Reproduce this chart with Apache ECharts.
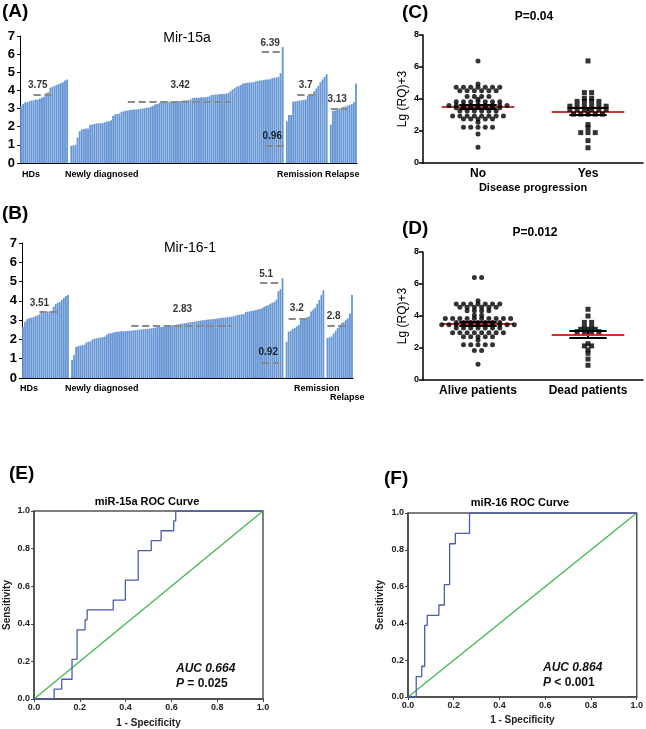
<!DOCTYPE html>
<html>
<head>
<meta charset="utf-8">
<script src="https://cdn.jsdelivr.net/npm/echarts@6/dist/echarts.min.js"></script>
<style>
html, body { margin: 0; padding: 0; background: #fff; }
#chart { width: 646px; height: 729px; }
</style>
</head>
<body>
<div id="chart"></div>
<script>
// (A) Mir-15a, sorted values per group
var hdsA = [3.15, 3.25, 3.35, 3.35, 3.4, 3.45, 3.45, 3.5, 3.5, 3.55, 3.6, 3.65, 3.85, 3.9, 4.15, 4.2, 4.25, 4.3, 4.35, 4.4, 4.45, 4.55, 4.6];
var newlyA = [0.95, 0.97, 1.0, 1.4, 1.75, 1.85, 1.88, 1.9, 1.9, 2.1, 2.12, 2.15, 2.18, 2.18, 2.2, 2.2, 2.25, 2.28, 2.3, 2.35,
    2.6, 2.68, 2.7, 2.72, 2.82, 2.85, 2.88, 2.9, 2.92, 2.93, 2.95, 2.95, 2.97, 2.98, 3.0, 3.02, 3.05, 3.05, 3.1, 3.15,
    3.22, 3.25, 3.3, 3.35, 3.35, 3.36, 3.38, 3.38, 3.4, 3.4, 3.4, 3.42, 3.42, 3.43, 3.45, 3.45, 3.47, 3.5, 3.58, 3.6,
    3.6, 3.6, 3.62, 3.62, 3.63, 3.65, 3.68, 3.75, 3.76, 3.78, 3.78, 3.8, 3.8, 3.8, 3.82, 3.85, 3.95, 4.05, 4.12, 4.2,
    4.25, 4.3, 4.38, 4.4, 4.42, 4.43, 4.45, 4.45, 4.5, 4.52, 4.55, 4.55, 4.58, 4.6, 4.6, 4.62, 4.68, 4.7, 4.72, 4.75,
    4.95, 6.39];
var remissionA = [2.3, 2.65, 2.65, 3.38, 3.4, 3.42, 3.45, 3.45, 3.48, 3.5, 3.7, 3.72, 3.8, 3.95, 4.1, 4.25, 4.45, 4.6, 4.75, 4.9];
var relapseA = [2.12, 2.88, 2.9, 2.95, 3.0, 3.05, 3.1, 3.12, 3.15, 3.2, 3.25, 3.35, 4.38];

// (B) Mir-16-1
var hdsB = [2.63, 2.92, 3.05, 3.1, 3.12, 3.15, 3.2, 3.25, 3.3, 3.4, 3.45, 3.45, 3.45, 3.45, 3.48, 3.7, 3.85, 3.9, 3.95, 4.05, 4.15, 4.25, 4.3];
var newlyB = [0.93, 1.2, 1.62, 1.65, 1.68, 1.7, 1.72, 1.85, 1.88, 1.9, 2.0, 2.04, 2.06, 2.08, 2.1, 2.12, 2.15, 2.25, 2.3, 2.32,
    2.35, 2.38, 2.4, 2.4, 2.42, 2.42, 2.43, 2.44, 2.45, 2.45, 2.47, 2.48, 2.5, 2.5, 2.52, 2.53, 2.54, 2.55, 2.56, 2.58,
    2.6, 2.62, 2.64, 2.65, 2.66, 2.67, 2.68, 2.7, 2.72, 2.73, 2.75, 2.76, 2.78, 2.8, 2.82, 2.84, 2.86, 2.88, 2.9, 2.9,
    2.92, 2.94, 2.96, 2.98, 3.0, 3.0, 3.02, 3.03, 3.04, 3.05, 3.06, 3.08, 3.1, 3.12, 3.13, 3.14, 3.15, 3.17, 3.18, 3.2,
    3.24, 3.26, 3.28, 3.3, 3.32, 3.42, 3.44, 3.46, 3.48, 3.5, 3.52, 3.55, 3.58, 3.62, 3.7, 3.74, 3.78, 3.85, 3.9, 3.95,
    4.05, 4.5, 4.6, 5.17];
var remissionB = [1.88, 2.4, 2.45, 2.55, 2.6, 2.68, 2.75, 3.0, 3.05, 3.1, 3.15, 3.2, 3.45, 3.55, 3.65, 3.85, 4.05, 4.3, 4.55];
var relapseB = [2.08, 2.1, 2.15, 2.3, 2.45, 2.6, 2.75, 2.85, 2.9, 3.0, 3.1, 3.35, 4.3];
var groupNames = ['HDs', 'Newly diagnosed', 'Remission', 'Relapse'];

// (C) disease progression: [value, how many dots at that level]
var progNo = [[6.38, 1], [4.94, 1], [4.73, 7], [4.52, 6], [4.15, 4], [3.98, 1], [3.83, 7], [3.6, 9], [3.46, 7], [3.25, 6],
    [2.94, 8], [2.75, 5], [2.54, 1], [2.23, 5], [1.81, 1], [0.98, 1]];
var progYes = [[6.38, 1], [4.4, 2], [4.05, 2], [3.85, 4], [3.55, 6], [3.35, 6], [3.05, 5], [2.4, 1], [2.2, 1], [1.9, 3], [1.4, 1], [0.95, 1]];
var progMean = [3.5, 3.21];
var progSem = [0.12, 0.22];
var progCats = ['No', 'Yes'];

// (D) survival
var alive = [[6.4, 2], [4.96, 1], [4.75, 7], [4.55, 6], [4.33, 4], [4.05, 2], [3.85, 10], [3.6, 7], [3.45, 11], [3.25, 7],
    [2.95, 8], [2.7, 5], [2.5, 1], [2.2, 5], [1.85, 2], [0.98, 1]];
var dead = [[4.42, 1], [4.0, 1], [3.6, 2], [3.3, 2], [3.17, 3], [3.02, 4], [2.27, 1], [2.13, 2], [1.88, 1], [1.67, 1], [1.31, 1], [0.92, 1]];
var survMean = [3.52, 2.85];
var survSem = [0.1, 0.2];
var survCats = ['Alive patients', 'Dead patients'];

// (E)/(F) ROC curves
var fprE = [0, 0.088, 0.121, 0.166, 0.188, 0.223, 0.232, 0.346, 0.399, 0.455, 0.512, 0.555, 0.61, 0.619, 1];
var tprE = [0, 0.053, 0.105, 0.211, 0.368, 0.421, 0.474, 0.526, 0.632, 0.789, 0.842, 0.895, 0.947, 1, 1];
var fprF = [0, 0.036, 0.06, 0.073, 0.084, 0.135, 0.159, 0.182, 0.207, 0.269, 1];
var tprF = [0, 0.111, 0.167, 0.389, 0.444, 0.5, 0.611, 0.833, 0.889, 1, 1];

var chart = echarts.init(document.getElementById('chart'));
var FONT = 'Arial, "Liberation Sans", sans-serif';
var BLUE = '#6796d5';

// groups joined with one empty slot between them
function joinGroups(groups) {
    var out = [];
    groups.forEach(function (g, i) {
        if (i > 0) out.push('-');
        out = out.concat(g);
    });
    return out;
}
var barsA = joinGroups([hdsA, newlyA, remissionA, relapseA]);
var barsB = joinGroups([hdsB, newlyB, remissionB, relapseB]);

// dashed mean lines and value labels: [text, labelIdx, labelY, dashY, from, to]
var notesA = [['3.75', 8, 4.3, 3.75, 6, 16], ['3.42', 76, 4.3, 3.4, 51, 100], ['6.39', 119, 6.6, 6.13, 115, 125],
    ['0.96', 119.5, 1.5, 0.97, 117, 126], ['3.7', 136, 4.3, 3.75, 132, 141], ['3.13', 151, 3.53, 2.99, 148, 156]];
var notesB = [['3.51', 7.6, 3.9, 3.45, 8, 17], ['2.83', 78, 3.58, 2.71, 53, 102], ['5.1', 119, 5.39, 4.94, 116, 126],
    ['0.92', 120, 1.33, 0.81, 117, 125], ['3.2', 134, 3.62, 3.06, 130, 140], ['2.8', 152, 3.18, 2.71, 149, 158]];

function barPanel(bars, notes, idx) {
    return [{
        type: 'bar', xAxisIndex: idx, yAxisIndex: idx, data: bars,
        barCategoryGap: '12%', itemStyle: { color: BLUE }, silent: true,
        markLine: {
            silent: true, symbol: ['none', 'none'], label: { show: false },
            lineStyle: { color: '#8a8a8a', type: 'dashed', width: 1.8 },
            data: notes.map(function (n) { return [{ coord: [n[4], n[3]] }, { coord: [n[5], n[3]] }]; })
        }
    }, {
        type: 'scatter', xAxisIndex: idx, yAxisIndex: idx, symbolSize: 1, silent: true,
        itemStyle: { color: 'rgba(0,0,0,0)' },
        data: notes.map(function (n) { return [n[1], n[2], n[0]]; }),
        label: {
            show: true, position: 'inside', color: '#000', fontSize: 10, fontWeight: 'bold', fontFamily: FONT,
            formatter: function (p) { return p.data[2]; }
        }
    }];
}

// symmetric rows of dots around the group centre
function swarm(rows, center) {
    var pts = [];
    rows.forEach(function (r) {
        for (var i = 0; i < r[1]; i++) pts.push([center + (i - (r[1] - 1) / 2) * 0.066, r[0]]);
    });
    return pts;
}

function meanSem(means, sems, xi, yi, red) {
    var black = [], redLines = [];
    means.forEach(function (m, i) {
        var c = i + 0.5, lo = m - sems[i], hi = m + sems[i];
        black.push({ coords: [[c - 0.17, lo], [c + 0.17, lo]] });
        black.push({ coords: [[c - 0.17, hi], [c + 0.17, hi]] });
        black.push({ coords: [[c, lo], [c, hi]] });
        redLines.push({ coords: [[c - 0.33, m], [c + 0.33, m]] });
    });
    return [
        { type: 'lines', coordinateSystem: 'cartesian2d', xAxisIndex: xi, yAxisIndex: yi, silent: true,
          lineStyle: { color: '#000', width: 2, opacity: 1 }, data: black },
        { type: 'lines', coordinateSystem: 'cartesian2d', xAxisIndex: xi, yAxisIndex: yi, silent: true,
          lineStyle: { color: red, width: 2, opacity: 1 }, data: redLines }
    ];
}

function pairs(xs, ys) { return xs.map(function (x, i) { return [x, ys[i]]; }); }

function barX(idx, n) {
    return { gridIndex: idx, type: 'category', data: Array.from({ length: n }, function (_, i) { return i; }),
        axisLine: { lineStyle: { color: '#000', width: 1 } }, axisTick: { show: false }, axisLabel: { show: false } };
}
function barY(idx) {
    return { gridIndex: idx, type: 'value', min: 0, max: 7, interval: 1, splitLine: { show: false },
        axisLine: { show: true, lineStyle: { color: '#000', width: 1 } },
        axisTick: { show: true, length: 3, lineStyle: { color: '#000' } },
        axisLabel: { color: '#000', fontSize: 13, fontWeight: 'bold', fontFamily: FONT, margin: 5 } };
}
function dotX(gi, cats, name) {
    return { gridIndex: gi, type: 'category', data: cats,
        axisLine: { lineStyle: { color: '#000', width: 1.5 } },
        axisTick: { alignWithLabel: true, length: 4, lineStyle: { color: '#000', width: 1.5 } },
        axisLabel: { color: '#000', fontSize: 12, fontWeight: 'bold', fontFamily: FONT, margin: 5 },
        name: name, nameLocation: 'middle', nameGap: 19,
        nameTextStyle: { color: '#000', fontSize: 11, fontWeight: 'bold', fontFamily: FONT } };
}
function dotY(gi) {
    return { gridIndex: gi, type: 'value', min: 0, max: 8, interval: 2, splitLine: { show: false },
        axisLine: { show: true, lineStyle: { color: '#000', width: 1.5 } },
        axisTick: { show: true, length: 4, lineStyle: { color: '#000', width: 1.5 } },
        axisLabel: { color: '#000', fontSize: 9, fontWeight: 'bold', fontFamily: FONT, margin: 4 },
        name: 'Lg (RQ)+3', nameLocation: 'middle', nameGap: 14,
        nameTextStyle: { color: '#000', fontSize: 12, fontFamily: FONT } };
}
function rocX(gi, gap) {
    return { gridIndex: gi, type: 'value', min: 0, max: 1, interval: 0.2, splitLine: { show: false },
        axisLine: { lineStyle: { color: '#444', width: 1.5 } },
        axisTick: { show: true, length: 3, lineStyle: { color: '#444' } },
        axisLabel: { color: '#222', fontSize: 9, fontWeight: 'bold', fontFamily: FONT, margin: 4,
            formatter: function (v) { return v.toFixed(1); } },
        name: '1 - Specificity', nameLocation: 'middle', nameGap: gap,
        nameTextStyle: { color: '#222', fontSize: 10, fontWeight: 'bold', fontFamily: FONT } };
}
function rocY(gi, gap) {
    return { gridIndex: gi, type: 'value', min: 0, max: 1, interval: 0.2, splitLine: { show: false },
        axisLine: { show: true, lineStyle: { color: '#444', width: 1.5 } },
        axisTick: { show: true, length: 3, lineStyle: { color: '#444' } },
        axisLabel: { color: '#222', fontSize: 9, fontWeight: 'bold', fontFamily: FONT, margin: 4,
            formatter: function (v) { return v.toFixed(1); } },
        name: 'Sensitivity', nameLocation: 'middle', nameGap: gap,
        nameTextStyle: { color: '#222', fontSize: 10, fontWeight: 'bold', fontFamily: FONT } };
}
function rocSeries(gi, xs, ys) {
    return [{
        type: 'line', xAxisIndex: gi, yAxisIndex: gi - 2, data: [[0, 0], [1, 1]], symbol: 'none', silent: true,
        lineStyle: { color: '#3db54a', width: 1.2 }
    }, {
        type: 'line', xAxisIndex: gi, yAxisIndex: gi - 2, data: pairs(xs, ys), step: 'end', symbol: 'none', silent: true,
        lineStyle: { color: '#4a5caf', width: 1.3 }
    }];
}

function txt(s, x, y, size, opts) {
    var o = opts || {};
    return { type: 'text', left: o.center ? undefined : x, x: o.center ? x : undefined, top: y, silent: true,
        style: { text: s, fill: '#000', fontSize: size, fontWeight: o.normal ? 'normal' : 'bold', fontFamily: FONT,
            textAlign: o.center ? 'center' : 'left' } };
}
function auc(line1, p, rest, x, y) {
    return { type: 'text', left: x, top: y, silent: true,
        style: { text: '{i|' + line1 + '}\n{i|' + p + '}{b| ' + rest + '}', fontFamily: FONT,
            rich: { i: { fontSize: 12, fontWeight: 'bold', fontStyle: 'italic', fill: '#111', lineHeight: 15 },
                    b: { fontSize: 12, fontWeight: 'bold', fill: '#111', lineHeight: 15 } } } };
}

var graphics = [
    txt('(A)', 2, 2, 19), txt('Mir-15a', 187, 31, 14, { center: true, normal: true }),
    txt(groupNames[0], 22, 170, 9), txt(groupNames[1], 65, 170, 9), txt(groupNames[2], 277, 170, 9), txt(groupNames[3], 325, 170, 9),
    txt('(B)', 2, 204, 19), txt('Mir-16-1', 190, 241, 14, { center: true, normal: true }),
    txt(groupNames[0], 20, 384, 9), txt(groupNames[1], 65, 384, 9), txt(groupNames[2], 294, 384, 9), txt(groupNames[3], 330, 393, 9),
    txt('(C)', 402, 3, 19), txt('P=0.04', 534, 11, 12, { center: true }),
    txt('(D)', 402, 219, 19), txt('P=0.012', 535, 227, 12, { center: true }),
    txt('(E)', 9, 464, 19), txt('miR-15a ROC Curve', 147, 496, 11, { center: true }),
    txt('(F)', 384, 469, 19), txt('miR-16 ROC Curve', 520, 497, 11, { center: true }),
    auc('AUC 0.664', 'P', '= 0.025', 176, 663),
    auc('AUC 0.864', 'P', '< 0.001', 543, 662)
];

var series = [].concat(
    barPanel(barsA, notesA, 0),
    barPanel(barsB, notesB, 1),
    [
        { type: 'scatter', xAxisIndex: 3, yAxisIndex: 2, symbol: 'circle', symbolSize: 5, silent: true,
          itemStyle: { color: '#000' }, data: swarm(progNo, 0.5) },
        { type: 'scatter', xAxisIndex: 3, yAxisIndex: 2, symbol: 'rect', symbolSize: 5, silent: true,
          itemStyle: { color: '#000' }, data: swarm(progYes, 1.5) }
    ],
    meanSem(progMean, progSem, 3, 2, '#c23b36'),
    [
        { type: 'scatter', xAxisIndex: 5, yAxisIndex: 3, symbol: 'circle', symbolSize: 5, silent: true,
          itemStyle: { color: '#000' }, data: swarm(alive, 0.5) },
        { type: 'scatter', xAxisIndex: 5, yAxisIndex: 3, symbol: 'rect', symbolSize: 5, silent: true,
          itemStyle: { color: '#000' }, data: swarm(dead, 1.5) }
    ],
    meanSem(survMean, survSem, 5, 3, '#e02a2a'),
    rocSeries(6, fprE, tprE),
    rocSeries(7, fprF, tprF)
);

var option = {
    animation: false,
    textStyle: { fontFamily: FONT },
    grid: [
        { left: 20, top: 36, width: 337, height: 127 },
        { left: 22, top: 243, width: 331, height: 135 },
        { left: 423, top: 35, width: 220, height: 128 },
        { left: 423, top: 252, width: 220, height: 128 },
        { left: 34, top: 511, width: 229, height: 188, show: true, borderColor: '#555', borderWidth: 1.5 },
        { left: 408, top: 513, width: 229, height: 184, show: true, borderColor: '#555', borderWidth: 1.5 }
    ],
    xAxis: [
        barX(0, barsA.length),
        barX(1, barsB.length),
        dotX(2, progCats, 'Disease progression'),
        { gridIndex: 2, type: 'value', min: 0, max: 2, show: false, position: 'top' },
        dotX(3, survCats, ''),
        { gridIndex: 3, type: 'value', min: 0, max: 2, show: false, position: 'top' },
        rocX(4, 19),
        rocX(5, 18)
    ],
    yAxis: [barY(0), barY(1), dotY(2), dotY(3), rocY(4, 22), rocY(5, 23)],
    series: series,
    graphic: graphics
};

chart.setOption(option);
</script>
</body>
</html>
